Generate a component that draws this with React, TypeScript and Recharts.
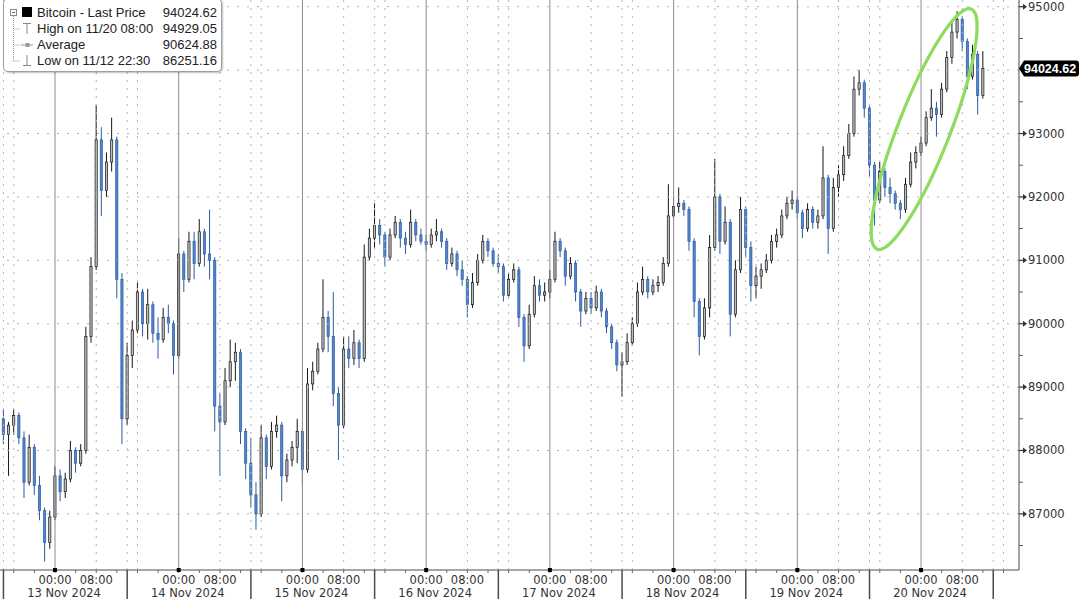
import React from "react";
import {
  ComposedChart,
  Bar,
  XAxis,
  YAxis,
  ReferenceLine,
  ReferenceDot,
} from "recharts";

// hourly candles, index = hours since 12 Nov 2024 13:00
const opens = [
  88900, 88500, 88250, 88400, 88550, 88200, 87500, 88050, 87450, 87050, 86550, 86950,
  87600, 87350, 87550, 88000, 87800, 88000, 89800, 90900, 92900, 92100, 92550, 92900,
  90700, 88500, 89500, 89900, 90500, 90000, 90300, 89850, 89750, 90100, 90000, 89500,
  91100, 90700, 91300, 90950, 91450, 91100, 91000, 88700, 88450, 89100, 89400, 89550,
  88300, 87800, 87300, 87000, 88200, 87750, 88300, 88400, 87600, 87850, 88050, 88300,
  87700, 89050, 89250, 89600, 90100, 89800, 88900, 88400, 89600, 89450, 89700, 89450,
  91050, 91350, 91550, 91400, 91050, 91400, 91600, 91350, 91250, 91600, 91400, 91300,
  91250, 91400, 91450, 91300, 90950, 91100, 90850, 90700, 90300, 90650, 91000, 91300,
  91150, 90950, 90900, 90450, 90700, 90850, 90100, 89650, 90150, 90600, 90450, 90500,
  90700, 91300, 91150, 90750, 90950, 90500, 90200, 90400, 90250, 90500, 90200, 89950,
  89700, 89350, 89400, 89700, 90000, 90500, 90700, 90500, 90600, 90650, 90950, 91700,
  91850, 91900, 91800, 91300, 90350, 89800, 90250, 91200, 92000, 91300, 91600, 90150,
  90850, 91800, 91200, 90600, 90750, 90850, 91000, 91300, 91400, 91700, 91900, 91950,
  91750, 91500, 91800, 91600, 91700, 92300, 91500, 92150, 92350, 92650, 93000, 93700,
  93800, 93400, 92500, 91950, 92400, 92150, 92050, 91900, 91800, 92200, 92550, 92700,
  92850, 93250, 93400, 93300, 93700, 94200, 94600, 94800, 94450, 93900, 94250, 93600,
];
const highs = [
  89050, 88650, 88450, 88650, 88600, 88300, 88250, 88100, 87600, 87100, 87050, 87750,
  87700, 87650, 88150, 88050, 88100, 89950, 91050, 93450, 93100, 92700, 93250, 92950,
  90800, 89700, 90050, 90650, 90550, 90550, 90350, 90100, 90250, 90300, 90050, 91350,
  91150, 91450, 91450, 91650, 91500, 91800, 91050, 88900, 89300, 89750, 89700, 89600,
  88350, 88200, 87500, 88400, 88250, 88450, 88550, 88450, 87950, 88150, 88500, 88350,
  89300, 89400, 89700, 90700, 90200, 90500, 89000, 89800, 89800, 89900, 89750, 91250,
  91500, 91900, 91650, 91450, 91500, 91700, 91650, 91450, 91800, 91650, 91500, 91400,
  91500, 91650, 91500, 91350, 91200, 91150, 91000, 90750, 90800, 91100, 91400, 91350,
  91200, 91100, 90950, 90800, 90950, 90900, 90150, 90300, 90750, 90700, 90650, 90850,
  91450, 91350, 91200, 91050, 91000, 90550, 90500, 90500, 90600, 90550, 90250, 90000,
  89750, 89550, 89850, 90100, 90650, 90900, 90750, 90700, 90750, 91050, 92200, 92000,
  92150, 91950, 91850, 91350, 90400, 90400, 91400, 92600, 92050, 91850, 91650, 91000,
  92000, 91850, 91300, 90900, 90950, 91100, 91400, 91500, 91800, 92000, 92100, 92000,
  91800, 91900, 91850, 91800, 92800, 92350, 92300, 92500, 92800, 93150, 93900, 94000,
  93850, 93450, 92550, 92550, 92450, 92300, 92100, 91950, 92300, 92700, 92800, 92950,
  93350, 93700, 93500, 93800, 94300, 94750, 94929.05, 94850, 94500, 94400, 94300, 94300,
];
const lows = [
  88350, 88100, 87600, 88250, 88100, 87250, 87450, 87300, 86900, 86251.16, 86450, 86900,
  87200, 87250, 87500, 87650, 87750, 87950, 89700, 90850, 91700, 92000, 92400, 90400,
  88100, 88400, 89300, 89850, 89800, 89750, 89700, 89450, 89700, 89850, 89200, 89450,
  90500, 90650, 90700, 90900, 90900, 90700, 88300, 87600, 88400, 89000, 89100, 88100,
  87550, 87100, 86750, 86950, 87550, 87700, 88200, 87200, 87500, 87750, 87800, 87450,
  87650, 88950, 89200, 89550, 89550, 88700, 87850, 88350, 89300, 89350, 89300, 89400,
  91000, 91200, 91250, 90900, 91000, 91350, 91200, 91100, 91200, 91300, 91250, 91150,
  91200, 91300, 91200, 90850, 90900, 90750, 90600, 90100, 90250, 90600, 90950, 91050,
  90900, 90800, 90350, 90400, 90650, 89950, 89400, 89600, 90100, 90350, 90350, 90400,
  90650, 91050, 90600, 90700, 90350, 89950, 90150, 90150, 90200, 90100, 89850, 89600,
  89250, 88850, 89350, 89650, 89950, 90450, 90400, 90450, 90500, 90600, 90900, 91650,
  91750, 91700, 91150, 90100, 89500, 89750, 90100, 91150, 91100, 91250, 89800, 90100,
  90800, 91050, 90350, 90400, 90550, 90800, 90950, 91200, 91350, 91650, 91800, 91650,
  91350, 91450, 91500, 91500, 91650, 91100, 91450, 92000, 92250, 92600, 92950, 93600,
  93250, 92300, 91550, 91900, 92000, 91900, 91800, 91650, 91750, 92150, 92450, 92650,
  92800, 93200, 92950, 93250, 93650, 94100, 94500, 94300, 93700, 93850, 93300, 93550,
];
const closes = [
  88500, 88250, 88400, 88550, 88200, 87500, 88050, 87450, 87050, 86550, 86950, 87600,
  87350, 87550, 88000, 87800, 88000, 89800, 90900, 92900, 92100, 92550, 92900, 90700,
  88500, 89500, 89900, 90500, 90000, 90300, 89850, 89750, 90100, 90000, 89500, 91100,
  90700, 91300, 90950, 91450, 91100, 91000, 88700, 88450, 89100, 89400, 89550, 88300,
  87800, 87300, 87000, 88200, 87750, 88300, 88400, 87600, 87850, 88050, 88300, 87700,
  89050, 89250, 89600, 90100, 89800, 88900, 88400, 89600, 89450, 89700, 89450, 91050,
  91350, 91550, 91400, 91050, 91400, 91600, 91350, 91250, 91600, 91400, 91300, 91250,
  91400, 91450, 91300, 90950, 91100, 90850, 90700, 90300, 90650, 91000, 91300, 91150,
  90950, 90900, 90450, 90700, 90850, 90100, 89650, 90150, 90600, 90450, 90500, 90700,
  91300, 91150, 90750, 90950, 90500, 90200, 90400, 90250, 90500, 90200, 89950, 89700,
  89350, 89400, 89700, 90000, 90500, 90700, 90500, 90600, 90650, 90950, 91700, 91850,
  91900, 91800, 91300, 90350, 89800, 90250, 91200, 92000, 91300, 91600, 90150, 90850,
  91800, 91200, 90600, 90750, 90850, 91000, 91300, 91400, 91700, 91900, 91950, 91750,
  91500, 91800, 91600, 91700, 92300, 91500, 92150, 92350, 92650, 93000, 93700, 93800,
  93400, 92500, 91950, 92400, 92150, 92050, 91900, 91800, 92200, 92550, 92700, 92850,
  93250, 93400, 93300, 93700, 94200, 94600, 94800, 94450, 93900, 94250, 93600, 94024.62,
];

const dayLabels = [
  "13 Nov 2024", "14 Nov 2024", "15 Nov 2024", "16 Nov 2024",
  "17 Nov 2024", "18 Nov 2024", "19 Nov 2024", "20 Nov 2024",
];
const midnights = [11, 35, 59, 83, 107, 131, 155, 179];
const eights = [19, 43, 67, 91, 115, 139, 163, 187];
const sixteens = [3, 27, 51, 75, 99, 123, 147, 171, 195];
const separators = [1, 25, 49, 73, 97, 121, 145, 169, 193];

const priceLevels = [87000, 88000, 89000, 90000, 91000, 92000, 93000, 94000, 95000];
const priceLabels = [87000, 88000, 89000, 90000, 91000, 92000, 93000, 95000];
const minorLevels = [86500, 87500, 88500, 89500, 90500, 91500, 92500, 93500, 94500];
const lastPrice = 94024.62;

const legendRows = [
  ["Bitcoin - Last Price", "94024.62"],
  ["High on 11/20 08:00", "94929.05"],
  ["Average", "90624.88"],
  ["Low on 11/12 22:30", "86251.16"],
];

// highlighted run on 20 Nov
const ringAt = { t: 179.6, price: 93070 };

const data = closes.map((c, i) => ({
  t: i,
  o: opens[i],
  c,
  hl: [lows[i], highs[i]],
}));

const fourHourTicks: number[] = [];
for (let h = 3; h <= 195; h += 4) fourHourTicks.push(h);
const xTicks = [...fourHourTicks, ...separators].sort((a, b) => a - b);
const yTicks = [...priceLabels, ...minorLevels, lastPrice].sort((a, b) => a - b);

const FONT = "DejaVu Sans";
const GRID = "#b4b4b4";

const Candle = (props: any) => {
  const { x, y, width, height, payload } = props;
  if (!payload) return null;
  const [lo, hi] = payload.hl;
  const top = Math.min(y, y + height);
  const h = Math.abs(height);
  const ppu = hi > lo ? h / (hi - lo) : 0;
  const up = payload.c >= payload.o;
  const bodyTop = top + (hi - Math.max(payload.o, payload.c)) * ppu;
  const bodyH = Math.max(1, Math.abs(payload.o - payload.c) * ppu);
  const cx = x + width / 2;
  const stroke = up ? "#161616" : "#2b5b9f";
  const fill = up ? "#b9bec6" : "#5186cf";
  return (
    <g>
      <line x1={cx} x2={cx} y1={top} y2={top + h} stroke={stroke} strokeWidth={1} />
      <rect
        x={x + 0.4}
        y={bodyTop}
        width={Math.max(1, width - 0.8)}
        height={bodyH}
        fill={fill}
        stroke={stroke}
        strokeWidth={0.7}
      />
    </g>
  );
};

const XTick = (props: any) => {
  const { x, y, payload } = props;
  const h = payload.value;
  if (separators.includes(h)) {
    return <line x1={x} x2={x} y1={y} y2={y + 30} stroke="#4a4a4a" strokeWidth={1.5} />;
  }
  const mi = midnights.indexOf(h);
  const isEight = eights.includes(h);
  return (
    <g>
      <line x1={x} x2={x} y1={y} y2={y + 3} stroke="#666" strokeWidth={1} />
      {mi >= 0 && (
        <>
          <rect x={x - 2} y={y - 2} width={4} height={4} fill="#000" />
          <text x={x} y={y + 14} textAnchor="middle" fontFamily={FONT} fontSize={11.5} fill="#333">
            00:00
          </text>
          <text x={x + 9} y={y + 26.5} textAnchor="middle" fontFamily={FONT} fontSize={11.5} fill="#333">
            {dayLabels[mi]}
          </text>
        </>
      )}
      {isEight && (
        <text x={x} y={y + 14} textAnchor="middle" fontFamily={FONT} fontSize={11.5} fill="#333">
          08:00
        </text>
      )}
    </g>
  );
};

const YTick = (props: any) => {
  const { x, y, payload } = props;
  const v = payload.value;
  if (v === lastPrice) {
    return (
      <g>
        <path
          d={`M${x} ${y} L${x + 5} ${y - 8} H${x + 57} Q${x + 60} ${y - 8} ${x + 60} ${y - 5} V${y + 5} Q${x + 60} ${y + 8} ${x + 57} ${y + 8} H${x + 5} Z`}
          fill="#000"
        />
        <text
          x={x + 5}
          y={y + 4.5}
          fontFamily="Liberation Sans"
          fontSize={12.5}
          fontWeight="bold"
          fill="#fff"
        >
          {lastPrice.toFixed(2)}
        </text>
      </g>
    );
  }
  if (v % 1000 === 0) {
    return (
      <g>
        <line x1={x} x2={x + 5} y1={y} y2={y} stroke="#333" strokeWidth={1.2} />
        <path d={`M${x + 4} ${y - 3} L${x + 8} ${y} L${x + 4} ${y + 3} Z`} fill="#333" />
        <text x={x + 9} y={y + 4} fontFamily={FONT} fontSize={11.5} fill="#333">
          {v}
        </text>
      </g>
    );
  }
  return <line x1={x} x2={x + 4} y1={y} y2={y} stroke="#555" strokeWidth={1} />;
};

const Ring = (p: any) => (
  <ellipse
    cx={p.cx}
    cy={p.cy}
    rx={129}
    ry={26}
    fill="none"
    stroke="#8ddc5e"
    strokeWidth={3.2}
    transform={`rotate(-68.6 ${p.cx} ${p.cy})`}
  />
);

const Legend = () => (
  <div
    style={{
      position: "absolute",
      left: 3,
      top: -2,
      width: 219,
      height: 74,
      background: "#fff",
      border: "1px solid #a0a0a0",
      borderRadius: 5,
      boxShadow: "1px 1px 2px rgba(0,0,0,0.25)",
      fontFamily: "Liberation Sans",
      fontSize: 13,
      color: "#222",
      boxSizing: "border-box",
    }}
  >
    <svg width={34} height={72} style={{ position: "absolute", left: 0, top: 0 }}>
      <line x1={9.5} x2={9.5} y1={17} y2={62} stroke="#999" strokeDasharray="1 1" />
      {[30, 46, 62].map((cy) => (
        <line key={cy} x1={9.5} x2={16} y1={cy} y2={cy} stroke="#999" strokeDasharray="1 1" />
      ))}
      <rect x={6.5} y={10.5} width={6} height={6} fill="#fff" stroke="#888" />
      <line x1={8} x2={11} y1={13.5} y2={13.5} stroke="#666" />
      <rect x={18} y={8} width={10} height={10} fill="#000" />
      <line x1={19} x2={27} y1={24.5} y2={24.5} stroke="#888" />
      <line x1={23} x2={23} y1={24.5} y2={35} stroke="#888" />
      <line x1={17} x2={29} y1={46} y2={46} stroke="#999" />
      <rect x={21.5} y={44} width={4} height={4} fill="#999" />
      <line x1={23} x2={23} y1={56} y2={66} stroke="#888" />
      <line x1={19} x2={27} y1={66.5} y2={66.5} stroke="#888" />
    </svg>
    {legendRows.map(([label, val], i) => (
      <div
        key={label}
        style={{
          position: "absolute",
          left: 33,
          top: 6 + i * 16,
          width: 180,
          height: 16,
          lineHeight: "16px",
          display: "flex",
          justifyContent: "space-between",
          whiteSpace: "nowrap",
        }}
      >
        <span>{label}</span>
        <span>{val}</span>
      </div>
    ))}
  </div>
);

export default function App() {
  return (
    <div style={{ position: "absolute", left: 0, top: 0, width: 1080, height: 599, background: "#fff" }}>
      <ComposedChart
        width={1080}
        height={599}
        data={data}
        margin={{ top: 0, right: 0, bottom: 0, left: 0 }}
      >
        <XAxis
          dataKey="t"
          type="number"
          domain={[0.33, 198]}
          allowDataOverflow
          ticks={xTicks}
          interval={0}
          tick={(p: any) => <XTick {...p} />}
          tickLine={false}
          tickSize={0}
          tickMargin={0}
          height={29}
          axisLine={{ stroke: "#888", strokeWidth: 1.5 }}
        />
        <YAxis
          orientation="right"
          type="number"
          domain={[86115, 95106]}
          allowDataOverflow
          ticks={yTicks}
          interval={0}
          tick={(p: any) => <YTick {...p} />}
          tickLine={false}
          tickSize={0}
          tickMargin={0}
          width={61}
          axisLine={{ stroke: "#666", strokeWidth: 1.2 }}
        />
        {priceLevels.map((p) => (
          <ReferenceLine key={"p" + p} y={p} stroke={GRID} strokeDasharray="2 8" />
        ))}
        {[...eights, ...sixteens, ...separators].map((h) => (
          <ReferenceLine key={"d" + h} x={h} stroke={GRID} strokeDasharray="2 6" />
        ))}
        {midnights.map((h) => (
          <ReferenceLine key={"m" + h} x={h} stroke="#8c8c8c" strokeWidth={1} />
        ))}
        <Bar dataKey="hl" shape={Candle} barSize={3} isAnimationActive={false} />
        <ReferenceDot x={ringAt.t} y={ringAt.price} r={1} shape={Ring} ifOverflow="visible" />
      </ComposedChart>
      <Legend />
    </div>
  );
}
